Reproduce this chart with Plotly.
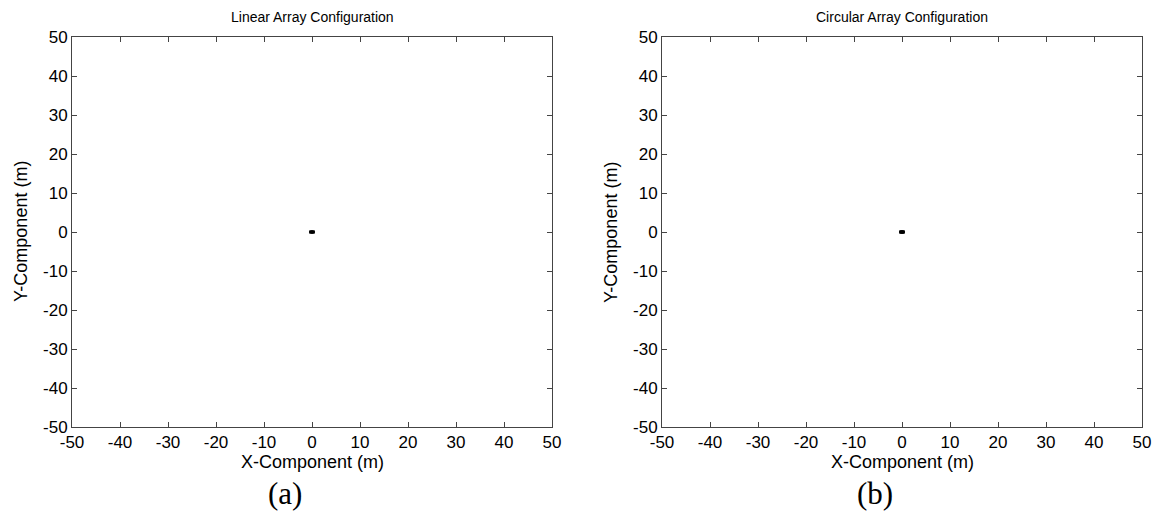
import plotly.graph_objects as go

titles = ["Linear Array Configuration", "Circular Array Configuration"]
panel_labels = ["(a)", "(b)"]
x_title = "X-Component (m)"
y_title = "Y-Component (m)"
tick_vals = [-50, -40, -30, -20, -10, 0, 10, 20, 30, 40, 50]
tick_text = ["-50", "-40", "-30", "-20", "-10", "0", "10", "20", "30", "40", "50"]

# element positions (tiny cluster at origin)
lin_x = [-0.3, -0.15, 0.0, 0.15, 0.3]
lin_y = [0.0, 0.0, 0.0, 0.0, 0.0]
circ_x = [0.3, 0.15, -0.15, -0.3, -0.15, 0.15]
circ_y = [0.0, 0.05, 0.05, 0.0, -0.05, -0.05]

fig = go.Figure()
fig.add_trace(go.Scatter(x=lin_x, y=lin_y, mode="markers",
                         marker=dict(color="black", size=3, symbol="square"),
                         xaxis="x", yaxis="y", showlegend=False))
fig.add_trace(go.Scatter(x=circ_x, y=circ_y, mode="markers",
                         marker=dict(color="black", size=3, symbol="square"),
                         xaxis="x2", yaxis="y2", showlegend=False))

W, H = 1162, 511
ydom = [1 - 427 / H, 1 - 37 / H]
xdom1 = [72 / W, 552 / W]
xdom2 = [662 / W, 1142 / W]

FONT = "Liberation Sans, Arial, sans-serif"
axis_common = dict(range=[-50, 50], tickvals=tick_vals, ticktext=tick_text,
                   ticks="inside", ticklen=5, automargin=False,
                   tickcolor="#444", showline=True, linecolor="#444", linewidth=1,
                   mirror="allticks", showgrid=False, zeroline=False,
                   tickfont=dict(family=FONT, size=17, color="black"))

fig.update_layout(
    width=W, height=H, margin=dict(l=0, r=0, t=0, b=0),
    plot_bgcolor="white", paper_bgcolor="white",
    xaxis=dict(domain=xdom1, anchor="y", **axis_common),
    yaxis=dict(domain=ydom, anchor="x", **axis_common),
    xaxis2=dict(domain=xdom2, anchor="y2", **axis_common),
    yaxis2=dict(domain=ydom, anchor="x2", **axis_common),
)

for xd, t, lab in zip([xdom1, xdom2], titles, panel_labels):
    cx = (xd[0] + xd[1]) / 2
    fig.add_annotation(text=t, x=cx, y=1 - 17 / H, xref="paper", yref="paper",
                       showarrow=False, xanchor="center", yanchor="middle",
                       font=dict(family=FONT, size=14, color="black"))
    fig.add_annotation(text=x_title, x=cx, y=1 - 462 / H, xref="paper", yref="paper",
                       showarrow=False, xanchor="center", yanchor="middle",
                       font=dict(family=FONT, size=18, color="black"))
    fig.add_annotation(text=y_title, x=xd[0] - 51 / W, y=(ydom[0] + ydom[1]) / 2,
                       xref="paper", yref="paper", textangle=-90,
                       showarrow=False, xanchor="center", yanchor="middle",
                       font=dict(family=FONT, size=18, color="black"))
    fig.add_annotation(text=lab, x=cx - 27 / W, y=1 - 493 / H, xref="paper", yref="paper",
                       showarrow=False, xanchor="center", yanchor="middle",
                       font=dict(family="Liberation Serif, Times New Roman, serif", size=31, color="black"))

fig.write_html("out.html")
